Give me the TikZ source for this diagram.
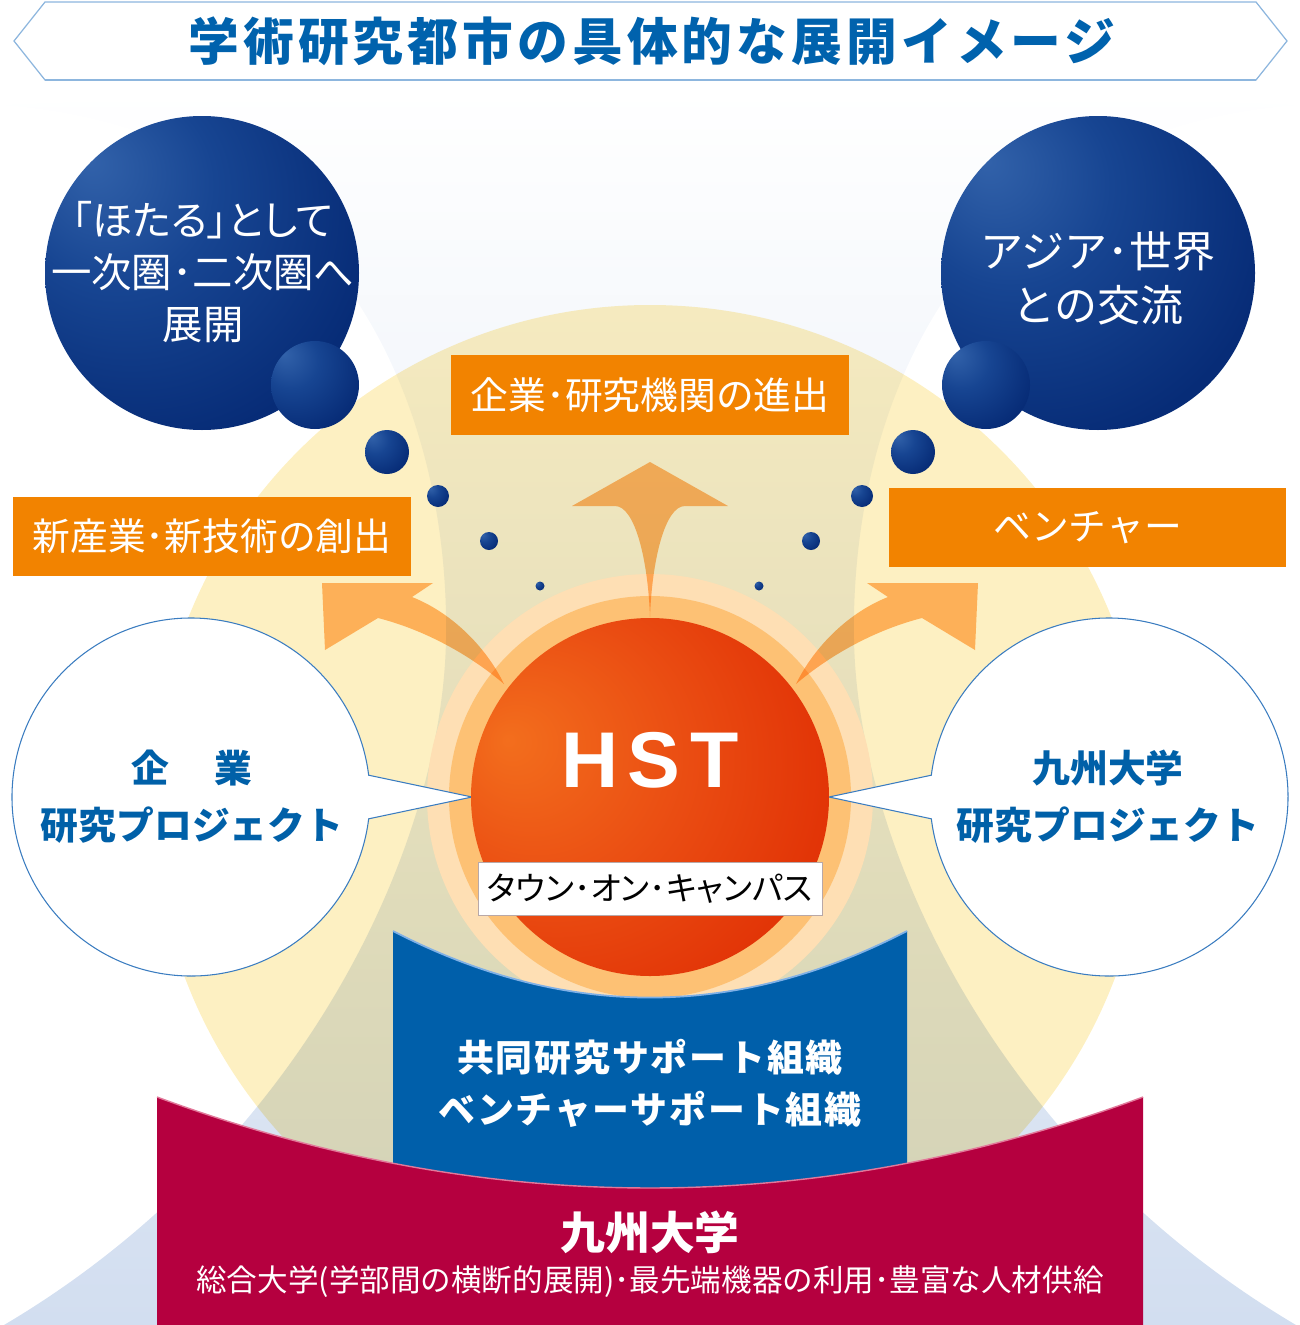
\documentclass[tikz,border=0pt]{standalone}
\usepackage{fontspec}
\setmainfont{Noto Sans CJK JP}
\newfontfamily\paltfont[RawFeature=+palt]{Noto Sans CJK JP}
\newfontfamily\titlefont[LetterSpace=8]{Noto Sans CJK JP}
\newfontfamily\spacedfont[LetterSpace=5]{Noto Sans CJK JP}
\newfontfamily\hstfont[LetterSpace=12]{Liberation Sans}
\usetikzlibrary{calc}
\newcommand\myfs[2]{\fontsize{#1}{#2}\selectfont}

\definecolor{titleblue}{HTML}{0062AD}
\definecolor{titleline}{HTML}{8DB6DE}
\definecolor{orangebox}{HTML}{F28300}
\definecolor{arroworange}{HTML}{FFBC74}
\definecolor{ringout}{HTML}{FEDFB4}
\definecolor{ringin}{HTML}{FDC174}
\definecolor{boxblue}{HTML}{005FAA}
\definecolor{boxblueedge}{HTML}{7FB0E6}
\definecolor{crimson}{HTML}{B5003F}
\definecolor{crimsonedge}{HTML}{E2789A}
\definecolor{yel}{HTML}{FDF0C2}
\definecolor{hgmid}{HTML}{D6E0F1}
\definecolor{hgbot}{HTML}{D2DEF0}
\definecolor{textblue}{HTML}{0060A8}
\definecolor{circline}{HTML}{3A7CC0}
\definecolor{taunline}{HTML}{B8A8A8}
\definecolor{bhl}{HTML}{3262AA}
\definecolor{bmid}{HTML}{174592}
\definecolor{bedge}{HTML}{072C77}
\definecolor{bouter}{HTML}{05286F}
\definecolor{sunhl}{HTML}{F36E1D}
\definecolor{sunmid}{HTML}{EA4C12}
\definecolor{sunedge}{HTML}{DD2600}

\pgfdeclareradialshading{bubble}{\pgfpoint{-18bp}{18bp}}{color(0bp)=(bhl); color(16bp)=(bmid); color(36bp)=(bedge); color(70bp)=(bouter)}
\pgfdeclareradialshading{sun}{\pgfpoint{-20bp}{8bp}}{color(0bp)=(sunhl); color(20bp)=(sunmid); color(44bp)=(sunedge); color(70bp)=(sunedge)}

\tikzset{
  orangelabel/.style={fill=orangebox, text=white, inner sep=0pt, font=\myfs{21.5}{26}},
  bubbletext/.style={text=white, align=center, inner sep=0pt},
  circletext/.style={text=textblue, align=center, inner sep=0pt, font=\bfseries\myfs{21.5}{32.3}},
  bubbleball/.style={shading=bubble},
  arrowshape/.style={fill=arroworange},
  callout/.style={draw=circline, line width=0.6pt, fill=white}
}

\begin{document}
\begin{tikzpicture}[x=0.02cm,y=-0.02cm]
\useasboundingbox (0,0) rectangle (1300,1325);

% light blue hourglass background
\shade[top color=white, middle color=hgmid, bottom color=hgbot]
  (0,105) .. controls (350,130) and (450,420) .. (446,640)
  .. controls (442,850) and (300,1150) .. (4,1325)
  -- (1296,1325)
  .. controls (1000,1150) and (858,850) .. (854,640)
  .. controls (850,420) and (950,130) .. (1300,105)
  .. controls (900,88) and (400,88) .. (0,105) -- cycle;

% yellow halo
\fill[yel, blend mode=multiply] (650,802) circle[radius=497];

% rings around HST
\fill[ringout] (650,797) circle[radius=223];
\fill[ringin] (650,797) circle[radius=201];

% orange arrows
\begin{scope}[blend mode=multiply]
\fill[arrowshape] (650,462) -- (728,506) -- (685,506)
  .. controls (665,506) and (652,560) .. (650,617)
  .. controls (648,560) and (635,506) .. (615,506) -- (572,506) -- cycle;
\fill[arrowshape] (322,583) -- (433,583) -- (412,597)
  .. controls (450,612) and (485,645) .. (504,684)
  .. controls (470,655) and (425,630) .. (378,618) -- (325,650) -- cycle;
\fill[arrowshape] (978,583) -- (867,583) -- (888,597)
  .. controls (850,612) and (815,645) .. (796,684)
  .. controls (830,655) and (875,630) .. (922,618) -- (975,650) -- cycle;
\end{scope}

% white callout circles
\draw[callout] (472,797) -- ($(191,797)+(7:179)$) arc[start angle=7, end angle=353, radius=179] -- cycle;
\draw[callout] (829,797) -- ($(1109,797)+(187:179)$) arc[start angle=187, end angle=533, radius=179] -- cycle;

% HST sphere
\shade[shading=sun] (650,797) circle[radius=179];
\node[font=\hstfont\bfseries\myfs{45}{45}, text=white, inner sep=0pt] (hst) at (650,760) {HST};
\node[draw=taunline, line width=0.5pt, fill=white, minimum width=6.88cm, minimum height=1.06cm, inner sep=0pt, font=\paltfont\myfs{18.6}{22}] (taun) at (650,888.5) {タウン･オン･キャンパス};

% blue support organisation band
\fill[boxblue] (393,931) .. controls (564.3,1019.7) and (735.7,1019.7) .. (907,931) -- (907,1200) -- (393,1200) -- cycle;
\draw[boxblueedge, line width=1pt] (393,931) .. controls (564.3,1019.7) and (735.7,1019.7) .. (907,931);
\node[text=white, align=center, inner sep=0pt, font=\spacedfont\bfseries\myfs{21}{30}] (support) at (650,1083.5) {共同研究サポート組織\\ベンチャーサポート組織};

% crimson Kyushu University band
\fill[crimson] (157,1097) .. controls (485.7,1218.3) and (814.3,1218.3) .. (1143,1097) -- (1143,1325) -- (157,1325) -- cycle;
\draw[crimsonedge, line width=0.8pt] (157,1097) .. controls (485.7,1218.3) and (814.3,1218.3) .. (1143,1097);
\node[text=white, inner sep=0pt, font=\bfseries\myfs{25.5}{30}] (kyudai) at (650,1232) {九州大学};
\node[text=white, inner sep=0pt, font=\myfs{17.4}{20}] (kyudaisub) at (650,1282) {総合大学(学部間の横断的展開)･最先端機器の利用･豊富な人材供給};

% circle texts
\node[circletext] (kigyo) at (192,797) {企\hspace{1.2em}業\\研究プロジェクト};
\node[circletext] (kyudaiproj) at (1108,797) {九州大学\\研究プロジェクト};

% blue bubbles
\shade[bubbleball] (202,273) circle[radius=157];
\shade[bubbleball] (315,385) circle[radius=44];
\shade[bubbleball] (387,452) circle[radius=22];
\shade[bubbleball] (438,496) circle[radius=11];
\shade[bubbleball] (489,541) circle[radius=9];
\shade[bubbleball] (540,586) circle[radius=4.5];
\shade[bubbleball] (1098,273) circle[radius=157];
\shade[bubbleball] (986,385) circle[radius=44];
\shade[bubbleball] (913,452) circle[radius=22];
\shade[bubbleball] (862,496) circle[radius=11];
\shade[bubbleball] (811,541) circle[radius=9];
\shade[bubbleball] (759,586) circle[radius=4.5];
\node[bubbletext, font=\paltfont\myfs{23}{29.8}] (hotaru) at (203,272) {「ほたる」として\\一次圏･二次圏へ\\展開};
\node[bubbletext, font=\myfs{24.5}{30.6}] (asia) at (1098,278) {アジア･世界\\との交流};

% orange labels
\node[orangelabel, minimum width=7.96cm, minimum height=1.6cm] (shinshutsu) at (650,395) {企業･研究機関の進出};
\node[orangelabel, minimum width=7.96cm, minimum height=1.58cm] (sozo) at (212,536.5) {新産業･新技術の創出};
\node[orangelabel, minimum width=7.94cm, minimum height=1.58cm] (venture) at (1087.5,527.5) {ベンチャー};

% title banner
\draw[titleline, line width=0.7pt, fill=white] (14,41) -- (45,2) -- (1256,2) -- (1287,41) -- (1256,80) -- (45,80) -- cycle;
\draw[titleline, line width=1.4pt] (45,80) -- (1256,80);
\node[text=titleblue, inner sep=0pt, font=\titlefont\bfseries\myfs{28.9}{32}] (title) at (652,41) {学術研究都市の具体的な展開イメージ};
\end{tikzpicture}
\end{document}
